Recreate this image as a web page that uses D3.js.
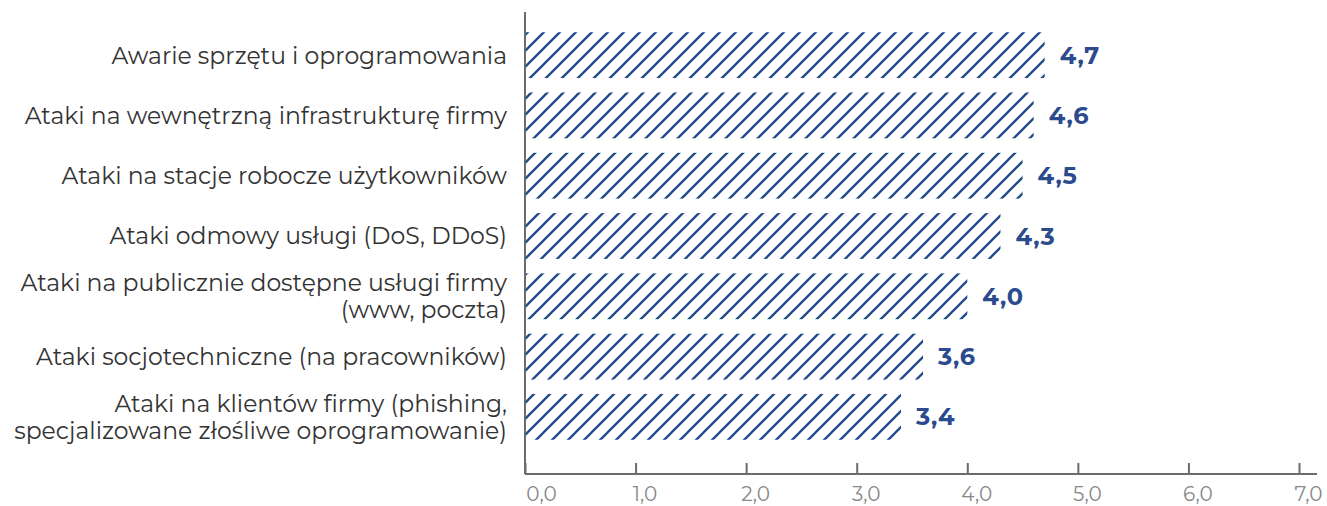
<!DOCTYPE html>
<html>
<head>
<meta charset="utf-8">
<script src="https://cdn.jsdelivr.net/npm/d3@7"></script>
<style>
  html, body { margin: 0; padding: 0; background: #fff; }
  svg { display: block; }
</style>
</head>
<body>
<svg id="chart" width="1327" height="506"></svg>
<script>
// Threat categories (top to bottom) and their mean ratings
const categories = [
  ["Awarie sprzętu i oprogramowania"],
  ["Ataki na wewnętrzną infrastrukturę firmy"],
  ["Ataki na stacje robocze użytkowników"],
  ["Ataki odmowy usługi (DoS, DDoS)"],
  ["Ataki na publicznie dostępne usługi firmy", "(www, poczta)"],
  ["Ataki socjotechniczne (na pracowników)"],
  ["Ataki na klientów firmy (phishing,", "specjalizowane złośliwe oprogramowanie)"]
];
const values = [4.7, 4.6, 4.5, 4.3, 4.0, 3.6, 3.4];
const tickValues = [0, 1, 2, 3, 4, 5, 6, 7];
const tickLabels = ["0,0", "1,0", "2,0", "3,0", "4,0", "5,0", "6,0", "7,0"];

const svg = d3.select("#chart");
const barColor = "#1f4a8a";
const axisColor = "#6b6b6b";
const fontFamily = "Montserrat, 'Open Sans', Lato, sans-serif";

// Diagonal hatch fill for the bars
const defs = svg.append("defs");
const pat = defs.append("pattern")
  .attr("id", "hatch")
  .attr("patternUnits", "userSpaceOnUse")
  .attr("width", 16).attr("height", 16);
pat.append("path")
  .attr("d", "M-4,4 L4,-4 M0,16 L16,0 M12,20 L20,12")
  .attr("stroke", barColor)
  .attr("stroke-width", 2.3);

const x = d3.scaleLinear().domain([0, 7]).range([525, 1299]);
const y = d3.scaleBand()
  .domain(d3.range(categories.length))
  .range([25, 447])
  .paddingInner(0.24)
  .paddingOuter(0.12);

const axisY = 474;

// Bars
svg.append("g").selectAll("rect")
  .data(values)
  .join("rect")
  .attr("x", x(0))
  .attr("y", (d, i) => y(i))
  .attr("width", d => x(d) - x(0))
  .attr("height", y.bandwidth())
  .attr("fill", "url(#hatch)");

// Value labels
svg.append("g").selectAll("text")
  .data(values)
  .join("text")
  .attr("x", d => x(d) + 15)
  .attr("y", (d, i) => y(i) + y.bandwidth() / 2)
  .attr("dy", "0.36em")
  .attr("font-family", fontFamily)
  .attr("font-size", 24)
  .attr("font-weight", 700)
  .attr("letter-spacing", 0.8)
  .attr("fill", "#2b4b8e")
  .text(d => d.toFixed(1).replace(".", ","));

// Category labels
const catG = svg.append("g");
categories.forEach((lines, i) => {
  const cy = y(i) + y.bandwidth() / 2;
  const lh = 27;
  const t = catG.append("text")
    .attr("text-anchor", "end")
    .attr("font-family", fontFamily)
    .attr("font-size", 23.5)
    .attr("fill", "#333");
  lines.forEach((ln, k) => {
    t.append("tspan")
      .attr("x", 507)
      .attr("y", cy + (k - (lines.length - 1) / 2) * lh)
      .attr("dy", "0.36em")
      .text(ln);
  });
});

// Vertical baseline
svg.append("line")
  .attr("x1", x(0)).attr("x2", x(0))
  .attr("y1", 12).attr("y2", axisY)
  .attr("stroke", axisColor).attr("stroke-width", 2);

// Bottom axis
const xAxis = d3.axisBottom(x)
  .tickValues(tickValues)
  .tickSize(-11)
  .tickPadding(19)
  .tickFormat((d, i) => tickLabels[i]);
const ax = svg.append("g")
  .attr("transform", `translate(0,${axisY})`)
  .call(xAxis);
ax.select(".domain").remove();
ax.append("line")
  .attr("x1", x(0)).attr("x2", 1317)
  .attr("stroke", axisColor).attr("stroke-width", 2);
ax.selectAll(".tick line").attr("stroke", axisColor).attr("stroke-width", 2);
ax.selectAll(".tick text")
  .attr("font-family", fontFamily)
  .attr("font-size", 20)
  .attr("fill", "#888")
  .attr("dx", (d, i) => i === 0 ? 16 : 9)
  .attr("dy", "0.4em");
</script>
</body>
</html>
